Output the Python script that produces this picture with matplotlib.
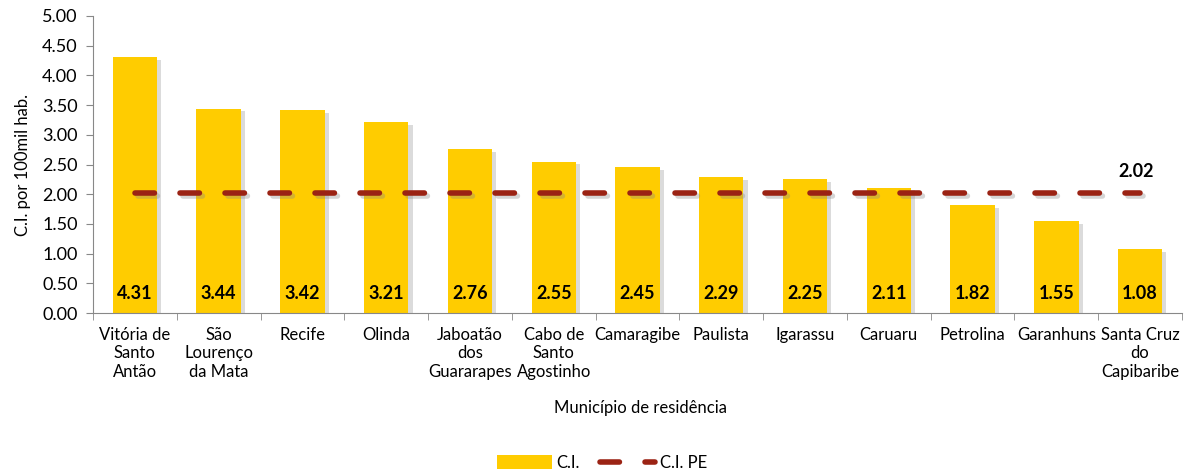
import matplotlib
matplotlib.use("Agg")
import matplotlib.pyplot as plt
import matplotlib.patheffects as pe
from matplotlib.lines import Line2D
from matplotlib.patches import Patch
import numpy as np

plt.rcParams['font.family'] = ['Lato', 'DejaVu Sans']

categories = ["Vitória de\nSanto\nAntão", "São\nLourenço\nda Mata", "Recife", "Olinda",
              "Jaboatão\ndos\nGuararapes", "Cabo de\nSanto\nAgostinho", "Camaragibe",
              "Paulista", "Igarassu", "Caruaru", "Petrolina", "Garanhuns",
              "Santa Cruz\ndo\nCapibaribe"]
ci_values = [4.31, 3.44, 3.42, 3.21, 2.76, 2.55, 2.45, 2.29, 2.25, 2.11, 1.82, 1.55, 1.08]
ci_pe = 2.02

bar_color = "#FFCC00"
line_color = "#9B2314"
dash = (0, (3.5, 4.6))

fig = plt.figure(figsize=(11.9, 4.76), dpi=100)
ax = fig.add_axes([93/1190, 163/476, 1089/1190, 297/476])

x = np.arange(len(categories))
ax.bar(x, ci_values, width=0.53, color=bar_color, zorder=2,
       path_effects=[pe.SimplePatchShadow(offset=(3, -2), shadow_rgbFace="#888888", alpha=0.3), pe.Normal()])

ax.plot(x, [ci_pe] * len(x), color=line_color, lw=4, linestyle=dash,
        dash_capstyle='round', zorder=3,
        path_effects=[pe.SimpleLineShadow(offset=(2, -2), shadow_color="#888888", alpha=0.35), pe.Normal()])

for xi, v in zip(x, ci_values):
    ax.text(xi, 0.33, f"{v:.2f}", ha='center', va='center', fontsize=13, fontweight='bold', zorder=4)

ax.text(x[-1] - 0.05, ci_pe + 0.22, f"{ci_pe:.2f}", ha='center', va='bottom', fontsize=13,
        fontweight='bold')

ax.set_xlim(-0.5, len(categories) - 0.5)
ax.set_ylim(0, 5)
yt = np.arange(0, 5.01, 0.5)
ax.set_yticks(yt)
ax.set_yticklabels([f"{t:.2f}" for t in yt], fontsize=13)
ax.set_xticks(x)
ax.set_xticklabels(categories, fontsize=12, linespacing=1.18)
ax.set_xticks(np.arange(-0.5, len(categories), 1), minor=True)
ax.tick_params(axis='x', which='major', length=0, pad=10)
ax.tick_params(axis='x', which='minor', length=5, color="#888888")
ax.tick_params(axis='y', length=5, color="#888888", pad=6)

for s in ['top', 'right']:
    ax.spines[s].set_visible(False)
for s in ['left', 'bottom']:
    ax.spines[s].set_color("#888888")

ax.set_ylabel("C.I. por 100mil hab.", fontsize=12, labelpad=8)
fig.text(640/1190, 1 - 408/476, "Município de residência", ha='center', va='center', fontsize=12)

handles = [Patch(facecolor=bar_color, edgecolor='none'),
           Line2D([0], [0], color=line_color, lw=4, linestyle=dash, dash_capstyle='round')]
fig.legend(handles, ["C.I.", "C.I. PE"], loc='center', bbox_to_anchor=(602/1190, 1 - 463/476),
           ncol=2, frameon=False, fontsize=12, handlelength=3.3, handleheight=0.9,
           columnspacing=1.2, handletextpad=0.3)

fig.savefig("out.png", dpi=100)
